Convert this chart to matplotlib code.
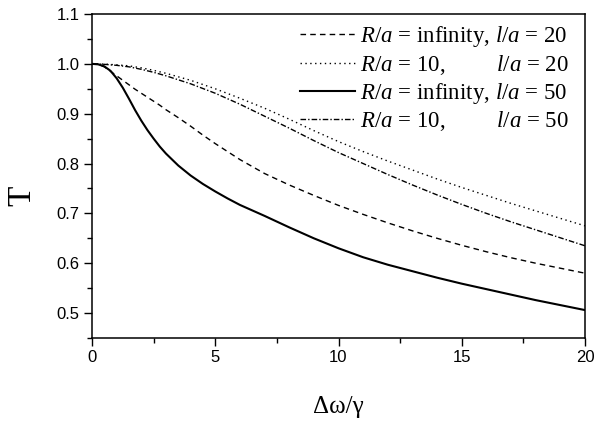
import matplotlib
matplotlib.use('Agg')
import matplotlib.pyplot as plt
from matplotlib.ticker import MultipleLocator

# data (x = detuning, T = transmission)
x_fine = [0, 0.25, 0.5, 0.75, 1, 1.25, 1.5, 1.75, 2, 2.25, 2.5, 2.75, 3, 3.5, 4, 4.5, 5, 5.5, 6,
          7, 8, 9, 10, 11, 12, 13, 14, 15, 16, 17, 18, 19, 20]
t_inf_50 = [1.0, 0.999, 0.995, 0.986, 0.971, 0.952, 0.930, 0.907, 0.886, 0.867, 0.850, 0.834,
            0.820, 0.796, 0.776, 0.759, 0.744, 0.730, 0.717,
            0.695, 0.672, 0.65, 0.63, 0.612, 0.597, 0.584, 0.571, 0.559, 0.548, 0.537, 0.526,
            0.516, 0.506]
t_inf_20 = [1.0, 0.999, 0.994, 0.985, 0.976, 0.967, 0.958, 0.949, 0.941, 0.933, 0.925, 0.917,
            0.908, 0.892, 0.875, 0.857, 0.840, 0.824, 0.808,
            0.780, 0.757, 0.736, 0.716, 0.698, 0.681, 0.665, 0.65, 0.636, 0.623, 0.611, 0.6,
            0.59, 0.58]

x_int = [0, 0.5, 1, 1.5, 2, 2.5, 3, 4, 5, 6, 7, 8, 9, 10, 11, 12, 13, 14, 15, 16, 17, 18, 19, 20]
t_10_20 = [1.0, 0.9995, 0.998, 0.996, 0.992, 0.987, 0.981, 0.967, 0.95, 0.931, 0.911, 0.889,
           0.866, 0.844, 0.824, 0.805, 0.787, 0.769, 0.752, 0.736, 0.72, 0.705, 0.69, 0.675]
t_10_50 = [1.0, 0.999, 0.997, 0.994, 0.989, 0.983, 0.976, 0.96, 0.941, 0.919, 0.895, 0.871,
           0.846, 0.822, 0.8, 0.778, 0.757, 0.737, 0.718, 0.7, 0.683, 0.667, 0.651, 0.635]

labels = [r'$R/a$ = infinity, $l/a$ = 20',
          r'$R/a$ = 10,         $l/a$ = 20',
          r'$R/a$ = infinity, $l/a$ = 50',
          r'$R/a$ = 10,         $l/a$ = 50']

plt.rcParams['font.family'] = ['Liberation Sans', 'DejaVu Sans']
plt.rcParams['mathtext.fontset'] = 'custom'
plt.rcParams['mathtext.rm'] = 'Liberation Serif'
plt.rcParams['mathtext.it'] = 'Liberation Serif:italic'

fig = plt.figure(figsize=(5.98, 4.24), dpi=100)
ax = fig.add_axes([92/598, 1-338/424, 493/598, 324/424])

ax.plot(x_fine, t_inf_20, color='k', lw=1.0, dashes=(4, 3), label=labels[0])
ax.plot(x_int, t_10_20, color='k', lw=1.0, dashes=(1, 2.5), label=labels[1])
ax.plot(x_fine, t_inf_50, color='k', lw=1.5, label=labels[2])
ax.plot(x_int, t_10_50, color='k', lw=1.0, dashes=(4, 1.5, 1, 1.5), label=labels[3])

ax.set_xlim(0, 20)
ax.set_ylim(0.45, 1.1)
ax.xaxis.set_major_locator(MultipleLocator(5))
ax.xaxis.set_minor_locator(MultipleLocator(2.5))
ax.yaxis.set_minor_locator(MultipleLocator(0.05))
ax.set_yticks([0.5, 0.6, 0.7, 0.8, 0.9, 1.0, 1.1])
ax.set_yticklabels(['0.5', '0.6', '0.7', '0.8', '0.9', '1.0', '1.1'])
ax.tick_params(which='major', direction='out', length=6, width=1, labelsize=12, pad=3)
ax.tick_params(which='minor', direction='out', length=3.5, width=1)
for s in ax.spines.values():
    s.set_linewidth(1.1)

ax.set_xlabel('Δω/γ', family='Liberation Serif', fontsize=18)
ax.set_ylabel('T', family='Liberation Serif', fontsize=24)
ax.xaxis.set_label_coords(0.5, -0.18)
ax.yaxis.set_label_coords(-0.11, 0.44)

leg = ax.legend(loc='upper right', bbox_to_anchor=(0.988, 1.0), frameon=False,
                prop={'family': 'Liberation Serif', 'size': 16.5},
                handlelength=2.4, handletextpad=0.2, labelspacing=0.16,
                borderaxespad=0.25, borderpad=0.2)

plt.savefig('out.png', dpi=100)
